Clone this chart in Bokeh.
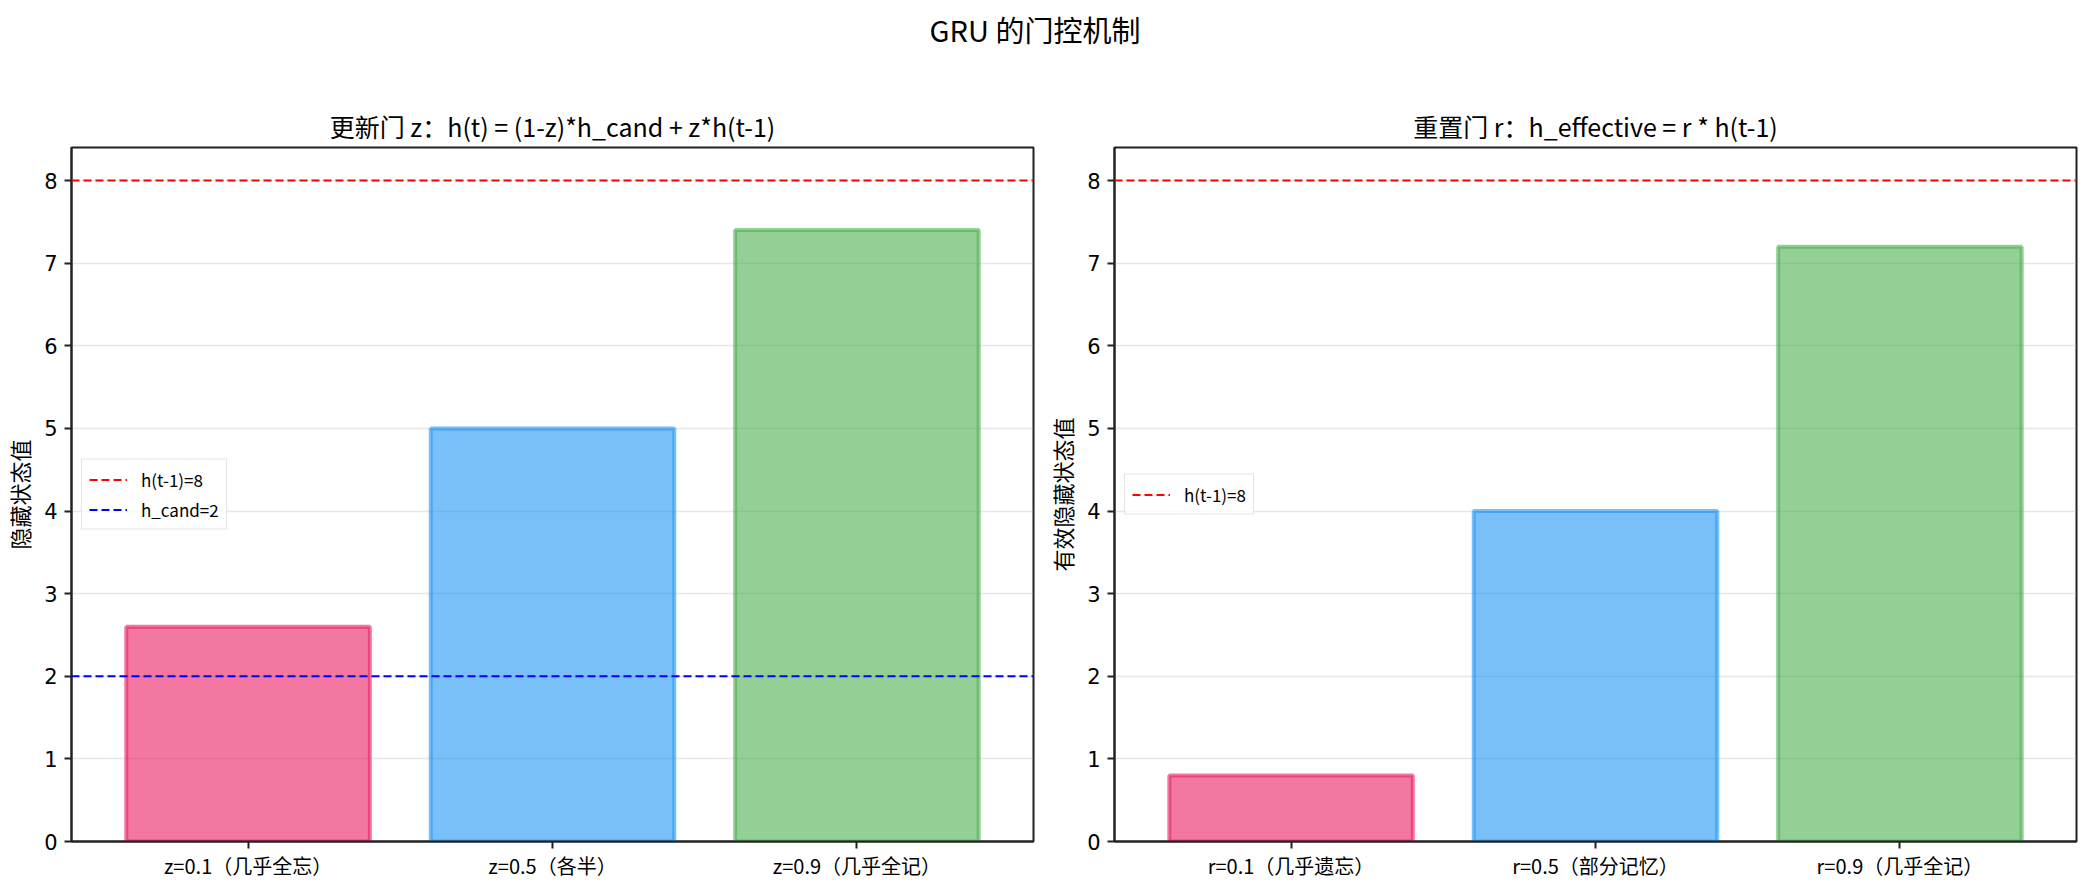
from bokeh.plotting import figure
from bokeh.layouts import column, row
from bokeh.models import FactorRange, Range1d, FixedTicker, Span, ColumnDataSource
from bokeh.core.properties import value
from bokeh.embed import file_html
from bokeh.resources import INLINE

# ---- data ----
suptitle = "GRU 的门控机制"
z_title = "更新门 z：h(t) = (1-z)*h_cand + z*h(t-1)"
r_title = "重置门 r：h_effective = r * h(t-1)"
z_ylabel = "隐藏状态值"
r_ylabel = "有效隐藏状态值"
z_labels = ["z=0.1（几乎全忘）", "z=0.5（各半）", "z=0.9（几乎全记）"]
z_values = [2.6, 5.0, 7.4]
r_labels = ["r=0.1（几乎遗忘）", "r=0.5（部分记忆）", "r=0.9（几乎全记）"]
r_values = [0.8, 4.0, 7.2]
bar_colors = ["#E91E63", "#2196F3", "#4CAF50"]
h_prev = 8
h_cand = 2
h_prev_label = "h(t-1)=8"
h_cand_label = "h_cand=2"
y_ticks = [0, 1, 2, 3, 4, 5, 6, 7, 8]
y_max = 8.4

CJK = "Noto Sans CJK SC"


def make_panel(labels, values, title, ylabel, lines, min_left, min_right):
    p = figure(
        x_range=FactorRange(*labels, range_padding=0.08, range_padding_units="absolute"),
        y_range=Range1d(0, y_max),
        frame_width=962, frame_height=694,
        output_backend="svg", toolbar_location=None,
        min_border_left=min_left, min_border_right=min_right,
        min_border_top=87, min_border_bottom=30,
    )
    p.title.text = title
    p.title.text_font = CJK
    p.title.text_font_size = "25px"
    p.title.text_font_style = "normal"
    p.title.align = "center"
    p.title.text_color = "black"
    p.title.standoff = 8

    src = ColumnDataSource(dict(x=labels, top=values, color=bar_colors))
    p.vbar(x="x", top="top", width=0.8, source=src,
           fill_color="color", fill_alpha=0.6,
           line_color="color", line_alpha=0.6, line_width=4)

    for (yv, col, lab) in lines:
        p.add_layout(Span(location=yv, dimension="width", line_color=col,
                          line_width=2, line_dash="8 4"))
        p.line(x=[labels[0], labels[0]], y=[float("nan"), float("nan")],
               line_color=col, line_width=2, line_dash="8 4", legend_label=lab)

    p.xgrid.visible = False
    p.yaxis.ticker = FixedTicker(ticks=y_ticks)
    p.ygrid.grid_line_color = "#b0b0b0"
    p.ygrid.grid_line_alpha = 0.3
    p.ygrid.grid_line_width = 1.5

    for ax in (p.xaxis, p.yaxis):
        ax.axis_line_color = "#222222"
        ax.axis_line_width = 2
        ax.major_tick_line_color = "#222222"
        ax.major_tick_line_width = 2
        ax.major_tick_out = 7
        ax.major_tick_in = 0
        ax.minor_tick_line_color = None
        ax.major_label_text_color = "black"
    p.yaxis.major_label_standoff = 7
    p.xaxis.major_label_standoff = 2
    p.xaxis.major_label_text_font = CJK
    p.xaxis.major_label_text_font_size = "20px"
    p.yaxis.major_label_text_font = "DejaVu Sans"
    p.yaxis.major_label_text_font_size = "21px"
    p.yaxis.axis_label = ylabel
    p.yaxis.axis_label_text_font = CJK
    p.yaxis.axis_label_text_font_size = "22px"
    p.yaxis.axis_label_text_font_style = "normal"
    p.yaxis.axis_label_text_color = "black"
    p.yaxis.axis_label_standoff = 6

    p.outline_line_color = "#222222"
    p.outline_line_width = 2

    lg = p.legend[0]
    lg.location = "left"
    lg.margin = 10
    lg.padding = 7
    lg.spacing = 5
    lg.glyph_width = 38
    lg.glyph_height = 18
    lg.label_height = 18
    lg.label_standoff = 14
    lg.label_text_font = CJK
    lg.label_text_font_size = "17px"
    lg.label_text_color = "black"
    lg.border_line_color = "#cccccc"
    lg.border_line_width = 1.5
    lg.background_fill_alpha = 0.8
    return p


p1 = make_panel(z_labels, z_values, z_title, z_ylabel,
                [(h_prev, "red", h_prev_label), (h_cand, "blue", h_cand_label)],
                62, 10)
p2 = make_panel(r_labels, r_values, r_title, r_ylabel,
                [(h_prev, "red", h_prev_label)],
                59, 6)

p0 = figure(width=2069, height=60, x_range=Range1d(0, 1), y_range=Range1d(0, 1),
            output_backend="svg", toolbar_location=None,
            min_border=0)
p0.axis.visible = False
p0.grid.visible = False
p0.outline_line_color = None
p0.text(x=[0.5], y=[0.533], text=[suptitle], text_align="center", text_baseline="middle",
        text_font=value(CJK), text_font_size="29px", text_color="black")

layout = column(p0, row(p1, p2, spacing=0), spacing=0)

with open("out.html", "w") as f:
    f.write(file_html(layout, INLINE))
